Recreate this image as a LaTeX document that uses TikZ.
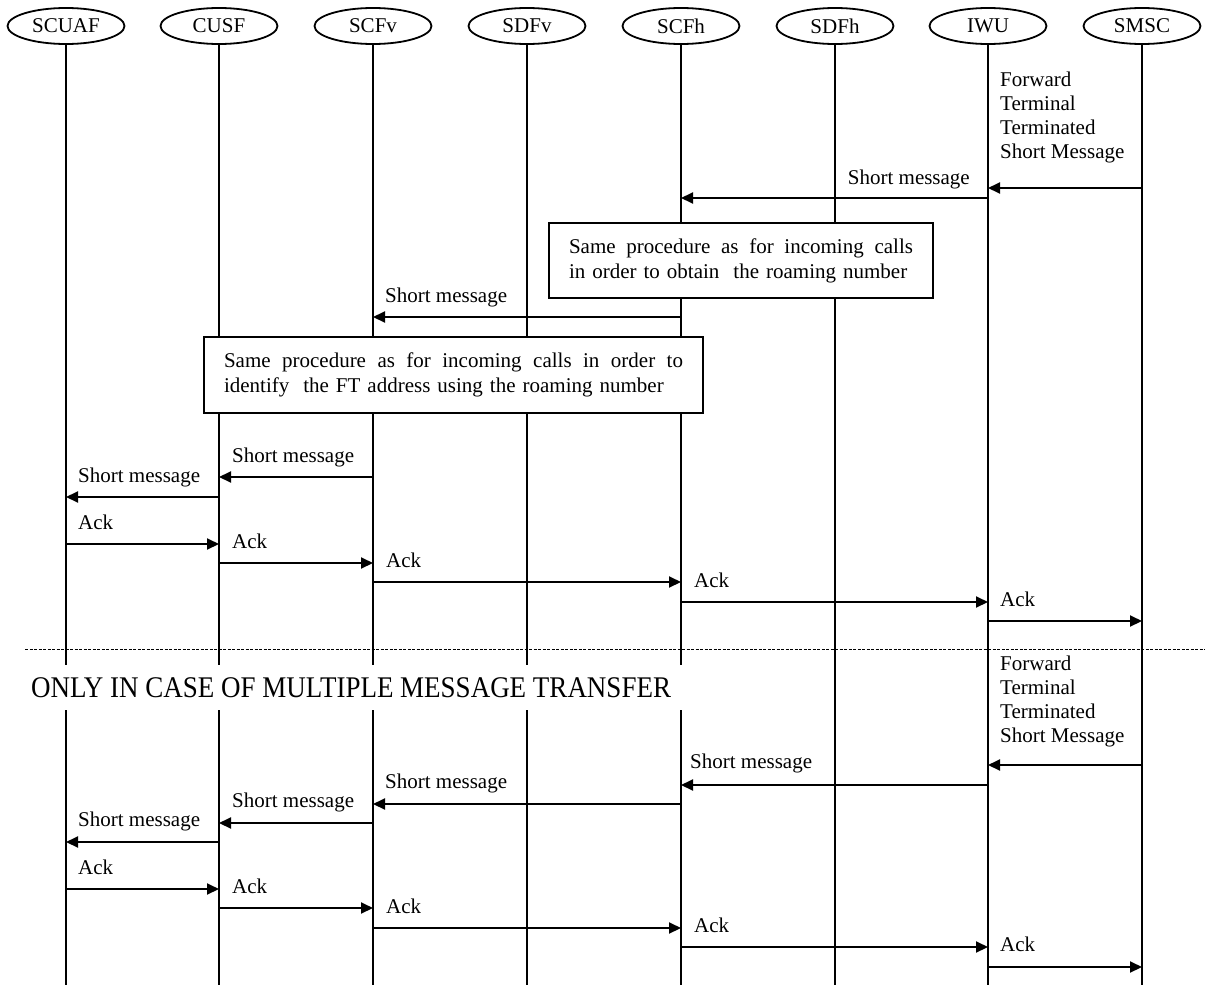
\documentclass[tikz,border=0pt]{standalone}
\usepackage{fontspec}
\setmainfont{Liberation Serif}
\usetikzlibrary{arrows.meta,shapes.geometric}

\newcommand\lblfont{\fontsize{21}{25}\selectfont}
% a line of text spread over a given width
\newcommand\spreadline[2]{\hbox to #1{#2}}

\begin{document}
\begin{tikzpicture}[x=1pt,y=-1pt,
  actor/.style={ellipse,draw,line width=1.8pt,minimum width=117pt,minimum height=36pt,inner sep=0pt,font=\lblfont},
  life/.style={line width=2pt},
  msg/.style={line width=2pt,-{Triangle[length=12pt,width=11pt]}},
  lbl/.style={font=\lblfont,inner sep=0pt},
  procbox/.style={draw,fill=white,line width=2pt,font=\lblfont,align=left,inner ysep=0pt,anchor=north west},
  sep/.style={line width=0.8pt,dash pattern=on 3pt off 1.5pt}]

\useasboundingbox (0,0) rectangle (1205,985);

% entities
\node[actor] (scuaf) at (66,26)   {SCUAF};
\node[actor] (cusf)  at (219,26)  {CUSF};
\node[actor] (scfv)  at (373,26)  {SCFv};
\node[actor] (sdfv)  at (527,26)  {SDFv};
\node[actor] (scfh)  at (681,26)  {SCFh};
\node[actor] (sdfh)  at (835,26)  {SDFh};
\node[actor] (iwu)   at (988,26)  {IWU};
\node[actor] (smsc)  at (1142,26) {SMSC};

% lifelines, interrupted under the banner text
\foreach \n in {scuaf,cusf,scfv,sdfv,scfh}{
  \draw[life] (\n.south) -- (\n |- 0,665);
  \draw[life] (\n |- 0,710) -- (\n |- 0,985);
}
\foreach \n in {sdfh,iwu,smsc}{
  \draw[life] (\n.south) -- (\n |- 0,985);
}

\newcommand\sendmsg[3]{\draw[msg] (#1 |- 0,#3) -- (#2 |- 0,#3);}

% ---- first message transfer
\node[lbl,align=left,anchor=north west] (fw1) at (1000,71.5)
  {Forward\\[-1pt]Terminal\\[-1pt]Terminated\\[-1pt]Short Message};
\sendmsg{smsc}{iwu}{188}
\node[lbl,anchor=base east] (sm1) at (970,184) {Short message};
\sendmsg{iwu}{scfh}{198}

\node[procbox,text width=344pt,inner xsep=20pt,minimum height=75pt] (proc1) at (548,222)
  {\spreadline{344pt}{Same\hfill\ procedure\hfill\ as\hfill\ for\hfill\ incoming\hfill\ calls}\\in order to obtain\ \ the roaming number};

\node[lbl,anchor=base west] (sm2) at (385,302) {Short message};
\sendmsg{scfh}{scfv}{317}

\node[procbox,text width=459pt,inner xsep=20pt,minimum height=76pt] (proc2) at (203,336)
  {\spreadline{459pt}{Same\hfill\ procedure\hfill\ as\hfill\ for\hfill\ incoming\hfill\ calls\hfill\ in\hfill\ order\hfill\ to}\\identify\ \ the FT address using the roaming number};

\node[lbl,anchor=base west] (sm3) at (232,462) {Short message};
\sendmsg{scfv}{cusf}{477}
\node[lbl,anchor=base west] (sm4) at (78,482) {Short message};
\sendmsg{cusf}{scuaf}{497}

\node[lbl,anchor=base west] (ack1) at (78,529) {Ack};
\sendmsg{scuaf}{cusf}{544}
\node[lbl,anchor=base west] (ack2) at (232,548) {Ack};
\sendmsg{cusf}{scfv}{563}
\node[lbl,anchor=base west] (ack3) at (386,567) {Ack};
\sendmsg{scfv}{scfh}{582}
\node[lbl,anchor=base west] (ack4) at (694,587) {Ack};
\sendmsg{scfh}{iwu}{602}
\node[lbl,anchor=base west] (ack5) at (1000,606) {Ack};
\sendmsg{iwu}{smsc}{621}

% ---- separator
\coordinate (sepl) at (25,649);
\coordinate (sepr) at (1205,649);
\draw[sep] (sepl) -- (sepr);
\node[inner sep=0pt,anchor=base west,font=\fontsize{30}{33}\selectfont] (banner) at (31,697)
  {\scalebox{0.9}[1]{ONLY IN CASE OF MULTIPLE MESSAGE TRANSFER}};

% ---- further message transfer
\node[lbl,align=left,anchor=north west] (fw2) at (1000,656)
  {Forward\\[-1pt]Terminal\\[-1pt]Terminated\\[-1pt]Short Message};
\sendmsg{smsc}{iwu}{765}
\node[lbl,anchor=base west] (sm5) at (690,768) {Short message};
\sendmsg{iwu}{scfh}{785}
\node[lbl,anchor=base west] (sm6) at (385,788) {Short message};
\sendmsg{scfh}{scfv}{804}
\node[lbl,anchor=base west] (sm7) at (232,807) {Short message};
\sendmsg{scfv}{cusf}{823}
\node[lbl,anchor=base west] (sm8) at (78,826) {Short message};
\sendmsg{cusf}{scuaf}{842}

\node[lbl,anchor=base west] (ack6) at (78,874) {Ack};
\sendmsg{scuaf}{cusf}{889}
\node[lbl,anchor=base west] (ack7) at (232,893) {Ack};
\sendmsg{cusf}{scfv}{908}
\node[lbl,anchor=base west] (ack8) at (386,913) {Ack};
\sendmsg{scfv}{scfh}{928}
\node[lbl,anchor=base west] (ack9) at (694,932) {Ack};
\sendmsg{scfh}{iwu}{947}
\node[lbl,anchor=base west] (ack10) at (1000,951) {Ack};
\sendmsg{iwu}{smsc}{967}

\end{tikzpicture}
\end{document}
